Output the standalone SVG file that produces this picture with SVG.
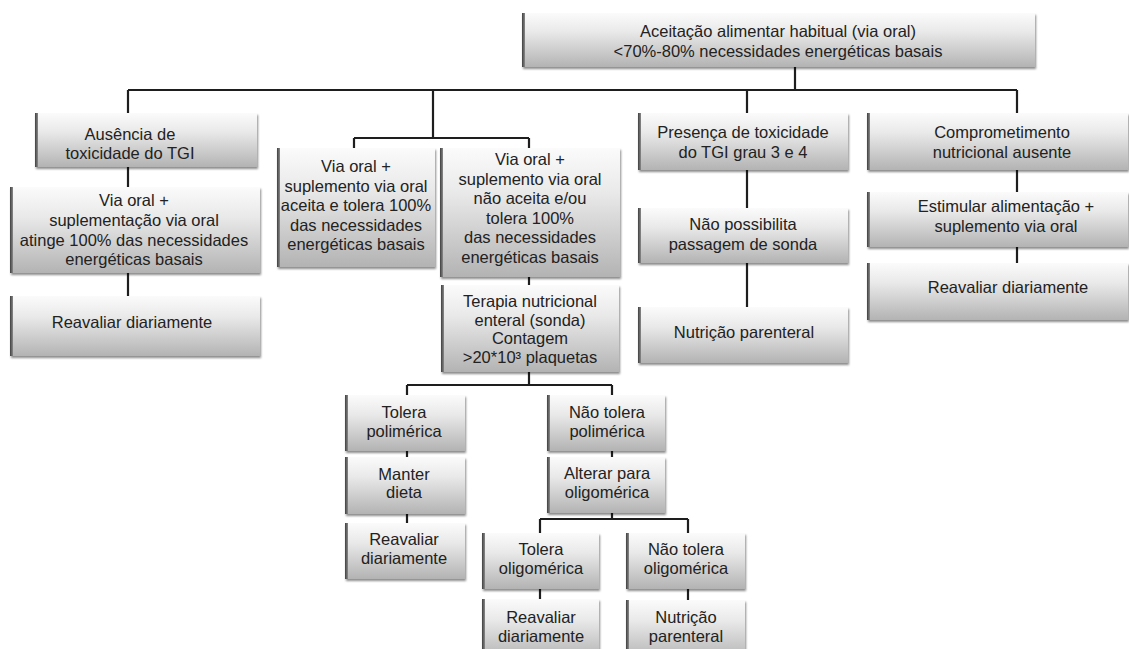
<svg xmlns="http://www.w3.org/2000/svg" width="1129" height="649" viewBox="0 0 1129 649">
<defs>
<linearGradient id="g" x1="0" y1="0" x2="0" y2="1">
<stop offset="0" stop-color="#fbfbfb"/>
<stop offset="0.35" stop-color="#e9e9e9"/>
<stop offset="1" stop-color="#b3b3b3"/>
</linearGradient>
<linearGradient id="ge" x1="0" y1="0" x2="1" y2="0">
<stop offset="0" stop-color="#3f3f3f"/>
<stop offset="1" stop-color="#8a8a8a"/>
</linearGradient>
<filter id="sh" x="-5%" y="-10%" width="115%" height="130%">
<feDropShadow dx="1" dy="2" stdDeviation="1.3" flood-color="#000" flood-opacity="0.45"/>
</filter>
</defs>
<style>
.b{fill:url(#g);filter:url(#sh);}
.e{fill:url(#ge);}
text{font-family:"Liberation Sans",Arial,sans-serif;font-size:16.5px;fill:#222;text-anchor:middle;}
.c{stroke:#1e1e1e;stroke-width:2.2;fill:none;}
</style>
<g id="connectors">
<path class="c" d="M795 67V90M128 90H1017M128 90V113M433 90V138M354 138H529M354 138V148M529 138V148M747 90V113M1017 90V113"/>
<path class="c" d="M128 167V187M128 273V296M529 277V285M747 170V208M747 263V307M1017 170V192M1017 247V263"/>
<path class="c" d="M529 372V385M407 385H612M407 385V395M612 385V395M407 451V457M407 514V523M612 451V457M612 513V519M540 519H688M540 519V533M688 519V533M540 589V599M688 589V600"/>
</g>
<g id="n0"><rect class="b" x="522" y="13" width="513" height="54"/><rect class="e" x="522" y="13" width="3" height="54"/><text x="778" y="37">Aceitação alimentar habitual (via oral)</text><text x="778" y="57">&lt;70%-80% necessidades energéticas basais</text></g>
<g id="n1"><rect class="b" x="35" y="113" width="222" height="54"/><rect class="e" x="35" y="113" width="3" height="54"/><text x="130" y="140">Ausência de</text><text x="130" y="159">toxicidade do TGI</text></g>
<g id="n2"><rect class="b" x="10" y="187" width="250" height="86"/><rect class="e" x="10" y="187" width="3" height="86"/><text x="134" y="206">Via oral +</text><text x="134" y="226">suplementação via oral</text><text x="134" y="246">atinge 100% das necessidades</text><text x="134" y="265">energéticas basais</text></g>
<g id="n3"><rect class="b" x="10" y="296" width="250" height="60"/><rect class="e" x="10" y="296" width="3" height="60"/><text x="132" y="328">Reavaliar diariamente</text></g>
<g id="n4"><rect class="b" x="277" y="148" width="158" height="119"/><rect class="e" x="277" y="148" width="3" height="119"/><text x="356" y="172">Via oral +</text><text x="356" y="192">suplemento via oral</text><text x="356" y="211">aceita e tolera 100%</text><text x="356" y="231">das necessidades</text><text x="356" y="250">energéticas basais</text></g>
<g id="n5"><rect class="b" x="440" y="148" width="180" height="129"/><rect class="e" x="440" y="148" width="3" height="129"/><text x="530" y="165">Via oral +</text><text x="530" y="184.5">suplemento via oral</text><text x="530" y="204">não aceita e/ou</text><text x="530" y="223.5">tolera 100%</text><text x="530" y="243">das necessidades</text><text x="530" y="262.5">energéticas basais</text></g>
<g id="n6"><rect class="b" x="441" y="285" width="178" height="87"/><rect class="e" x="441" y="285" width="3" height="87"/><text x="530" y="307">Terapia nutricional</text><text x="530" y="325.5">enteral (sonda)</text><text x="530" y="344">Contagem</text><text x="530" y="363">&gt;20*10³ plaquetas</text></g>
<g id="n7"><rect class="b" x="638" y="113" width="210" height="57"/><rect class="e" x="638" y="113" width="3" height="57"/><text x="743" y="138">Presença de toxicidade</text><text x="743" y="158">do TGI grau 3 e 4</text></g>
<g id="n8"><rect class="b" x="638" y="208" width="210" height="55"/><rect class="e" x="638" y="208" width="3" height="55"/><text x="743" y="230">Não possibilita</text><text x="743" y="250">passagem de sonda</text></g>
<g id="n9"><rect class="b" x="638" y="307" width="210" height="56"/><rect class="e" x="638" y="307" width="3" height="56"/><text x="744" y="338">Nutrição parenteral</text></g>
<g id="n10"><rect class="b" x="867" y="113" width="261" height="57"/><rect class="e" x="867" y="113" width="3" height="57"/><text x="1002" y="138">Comprometimento</text><text x="1002" y="158">nutricional ausente</text></g>
<g id="n11"><rect class="b" x="867" y="192" width="261" height="55"/><rect class="e" x="867" y="192" width="3" height="55"/><text x="1006" y="212">Estimular alimentação +</text><text x="1006" y="232">suplemento via oral</text></g>
<g id="n12"><rect class="b" x="867" y="263" width="261" height="57"/><rect class="e" x="867" y="263" width="3" height="57"/><text x="1008" y="293">Reavaliar diariamente</text></g>
<g id="n13"><rect class="b" x="345" y="395" width="120" height="56"/><rect class="e" x="345" y="395" width="3" height="56"/><text x="404" y="418">Tolera</text><text x="404" y="437">polimérica</text></g>
<g id="n14"><rect class="b" x="345" y="457" width="120" height="57"/><rect class="e" x="345" y="457" width="3" height="57"/><text x="404" y="480">Manter</text><text x="404" y="498">dieta</text></g>
<g id="n15"><rect class="b" x="345" y="523" width="120" height="56"/><rect class="e" x="345" y="523" width="3" height="56"/><text x="404" y="545">Reavaliar</text><text x="404" y="564">diariamente</text></g>
<g id="n16"><rect class="b" x="547" y="395" width="118" height="56"/><rect class="e" x="547" y="395" width="3" height="56"/><text x="607" y="418">Não tolera</text><text x="607" y="437">polimérica</text></g>
<g id="n17"><rect class="b" x="547" y="457" width="118" height="56"/><rect class="e" x="547" y="457" width="3" height="56"/><text x="607" y="479">Alterar para</text><text x="607" y="498">oligomérica</text></g>
<g id="n18"><rect class="b" x="482" y="533" width="117" height="56"/><rect class="e" x="482" y="533" width="3" height="56"/><text x="541" y="555">Tolera</text><text x="541" y="574">oligomérica</text></g>
<g id="n19"><rect class="b" x="626" y="533" width="119" height="56"/><rect class="e" x="626" y="533" width="3" height="56"/><text x="686" y="555">Não tolera</text><text x="686" y="574">oligomérica</text></g>
<g id="n20"><rect class="b" x="482" y="599" width="117" height="60"/><rect class="e" x="482" y="599" width="3" height="60"/><text x="541" y="623">Reavaliar</text><text x="541" y="642">diariamente</text></g>
<g id="n21"><rect class="b" x="626" y="600" width="119" height="60"/><rect class="e" x="626" y="600" width="3" height="60"/><text x="686" y="623">Nutrição</text><text x="686" y="642">parenteral</text></g>
</svg>
